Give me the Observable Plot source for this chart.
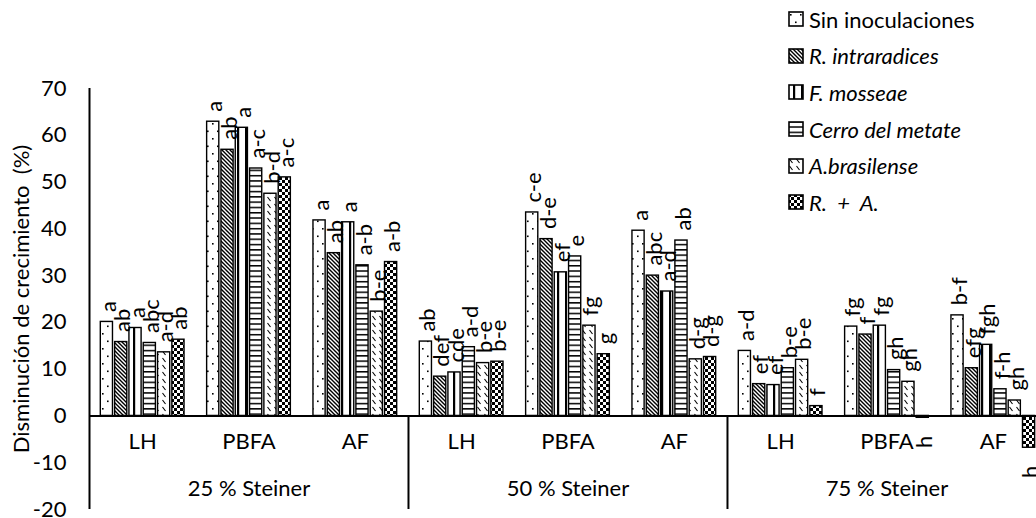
<!DOCTYPE html>
<html><head><meta charset="utf-8">
<script src="https://cdn.jsdelivr.net/npm/d3@7"></script>
<script src="https://cdn.jsdelivr.net/npm/@observablehq/plot@0.6"></script>
<style>
html,body{margin:0;padding:0;background:#fff;overflow:hidden}
#wrap{position:relative;width:1036px;height:518px;font-family:Lato,sans-serif;overflow:hidden}
#legend{position:absolute;left:788px;top:1px;font-size:22px;color:#000;font-family:Lato,sans-serif}
.row{display:flex;align-items:center;height:36.6px;white-space:pre}
.row svg{margin-right:5px;flex:none}
.it{font-style:italic}
</style></head>
<body>
<svg width="0" height="0" style="position:absolute">
<defs>
<pattern id="p0" patternUnits="userSpaceOnUse" width="10" height="15">
  <rect width="10" height="15" fill="#fff"/>
  <rect x="2" y="3" width="1.6" height="1.6" fill="#000"/>
  <rect x="7" y="10.5" width="1.6" height="1.6" fill="#000"/>
</pattern>
<pattern id="p1" patternUnits="userSpaceOnUse" width="4" height="4">
  <rect width="4" height="4" fill="#fff"/>
  <path d="M-1,-1L5,5M-1,3L1,5M3,-1L5,1" stroke="#000" stroke-width="1.4"/>
</pattern>
<pattern id="p2" patternUnits="userSpaceOnUse" width="8" height="8">
  <rect width="8" height="8" fill="#fff"/>
  <rect x="5" y="0" width="2.2" height="8" fill="#000"/>
</pattern>
<pattern id="p3" patternUnits="userSpaceOnUse" width="6" height="5.3">
  <rect width="6" height="5.3" fill="#fff"/>
  <rect x="0" y="0" width="6" height="1.5" fill="#000"/>
</pattern>
<pattern id="p4" patternUnits="userSpaceOnUse" width="7" height="7">
  <rect width="7" height="7" fill="#fff"/>
  <path d="M1.5,1L4.5,5" stroke="#000" stroke-width="1.1"/>
</pattern>
<pattern id="p5" patternUnits="userSpaceOnUse" width="6" height="6">
  <rect width="6" height="6" fill="#fff"/>
  <rect x="0" y="0" width="3" height="3" fill="#000"/>
  <rect x="3" y="3" width="3" height="3" fill="#000"/>
</pattern>
</defs>
</svg>
<div id="wrap"><div id="chart"></div><div id="legend"></div></div>
<script>
// ---- data ----
const steiner = ["25 % Steiner", "50 % Steiner", "75 % Steiner"];
const types = ["LH", "PBFA", "AF"];
const series = ["Sin inoculaciones", "R. intraradices", "F. mosseae", "Cerro del metate", "A.brasilense", "R.  +  A."];
const italicSeries = [false, true, true, true, true, true];
// values ordered: 25%LH, 25%PBFA, 25%AF, 50%LH, 50%PBFA, 50%AF, 75%LH, 75%PBFA, 75%AF
const sinInoc   = [20.1, 62.9, 41.8, 15.9, 43.5, 39.6, 13.9, 19.1, 21.5];
const rIntra    = [15.8, 56.9, 34.8,  8.4, 37.8, 30.0,  6.8, 17.4, 10.2];
const fMosseae  = [18.8, 61.6, 41.4,  9.3, 30.7, 26.6,  6.6, 19.3, 15.2];
const cerro     = [15.6, 52.9, 32.2, 14.7, 34.1, 37.5, 10.2,  9.8,  5.7];
const aBras     = [13.6, 47.5, 22.3, 11.3, 19.3, 12.1, 12.0,  7.3,  3.3];
const rPlusA    = [16.3, 51.0, 32.9, 11.6, 13.2, 12.6,  2.1, -0.4, -6.8];
const values = [sinInoc, rIntra, fMosseae, cerro, aBras, rPlusA];

const lSin   = ["a", "a", "a", "ab", "c-e", "a", "a-d", "fg", "b-f"];
const lRi    = ["ab", "ab", "ab", "def", "d-e", "abc", "ef", "f", "efg"];
const lFm    = ["a", "a", "a", "cde", "ef", "a-d", "ef", "fg", "fgh"];
const lCerro = ["abc", "a-c", "a-b", "a-d", "e", "ab", "b-e", "gh", "f-h"];
const lAb    = ["a-d", "b-d", "b-e", "b-e", "fg", "d-g", "b-e", "gh", "gh"];
const lRA    = ["ab", "a-c", "a-b", "b-e", "g", "d-g", "f", "h", "h"];
const letters = [lSin, lRi, lFm, lCerro, lAb, lRA];

const yTicks = [-20, -10, 0, 10, 20, 30, 40, 50, 60, 70];
const yLabel = "Disminución de crecimiento  (%)";
const patterns = ["url(#p0)", "url(#p1)", "url(#p2)", "url(#p3)", "url(#p4)", "url(#p5)"];

// ---- tables ----
const nGroups = steiner.length * types.length;
const band = d3.scaleBand().domain(series).range([0, 1]).paddingInner(0.15).paddingOuter(0.79);
const rows = [];
const groupRows = [];
steiner.forEach((s, si) => types.forEach((t, ti) => {
  const g = si * types.length + ti;
  groupRows.push({g, type: t, xm: g + 0.5});
  series.forEach((name, k) => {
    const x1 = g + band(name);
    rows.push({g, steiner: s, type: t, series: name, value: values[k][g], letter: letters[k][g],
      x1, x2: x1 + band.bandwidth(), xm: x1 + band.bandwidth() / 2});
  });
}));
const steinerRows = steiner.map((s, si) => ({steiner: s, xm: si * types.length + types.length / 2}));
const separators = steiner.map((s, si) => si * types.length).slice(1);

const chart = Plot.plot({
  width: 1036, height: 518,
  marginLeft: 89, marginRight: 0, marginTop: 88, marginBottom: 9,
  style: {fontFamily: "Lato, sans-serif", fontSize: "22px", color: "#000", background: "#fff", overflow: "visible"},
  x: {type: "linear", domain: [0, nGroups], range: [89, 89 + 106.33 * nGroups], axis: null},
  y: {domain: [-20, 70], ticks: yTicks, tickSize: 0, tickPadding: 23, tickFormat: d => String(d),
      label: yLabel, labelArrow: "none", labelAnchor: "center", labelOffset: 76},
  color: {domain: series, range: patterns},
  marks: [
    Plot.rect(rows, {x1: "x1", x2: "x2", y1: 0, y2: "value", fill: "series", stroke: "#000", strokeWidth: 1.4}),
    Plot.ruleY([0], {stroke: "#000", strokeWidth: 2}),
    Plot.ruleX([0], {y1: -20, y2: 70, stroke: "#000", strokeWidth: 2}),
    Plot.ruleX(separators, {y1: 0, y2: -20, stroke: "#000", strokeWidth: 2}),
    Plot.text(rows.filter(d => d.value >= 0), {x: "xm", y: "value", text: "letter", rotate: -90,
      textAnchor: "start", dx: 2, dy: -10, fontSize: 22, fill: "#000"}),
    Plot.text(rows.filter(d => d.value < 0), {x: "xm", y: "value", text: "letter", rotate: -90,
      textAnchor: "end", dx: 2, dy: 18, fontSize: 22, fill: "#000"}),
    Plot.text(groupRows, {x: "xm", text: "type", frameAnchor: "bottom", dy: -61, fontSize: 22, fill: "#000"}),
    Plot.text(steinerRows, {x: "xm", text: "steiner", frameAnchor: "bottom", dy: -14, fontSize: 22, fill: "#000"})
  ]
});
document.getElementById("chart").appendChild(chart);

// ---- legend ----
const legend = document.getElementById("legend");
series.forEach((name, k) => {
  const row = document.createElement("div");
  row.className = "row";
  row.innerHTML = `<svg width="16" height="16"><rect x="1" y="1" width="14" height="14" fill="${patterns[k]}" stroke="#000" stroke-width="1.6"/></svg><span class="${italicSeries[k] ? "it" : ""}">${name}</span>`;
  legend.appendChild(row);
});
</script>
</body></html>
